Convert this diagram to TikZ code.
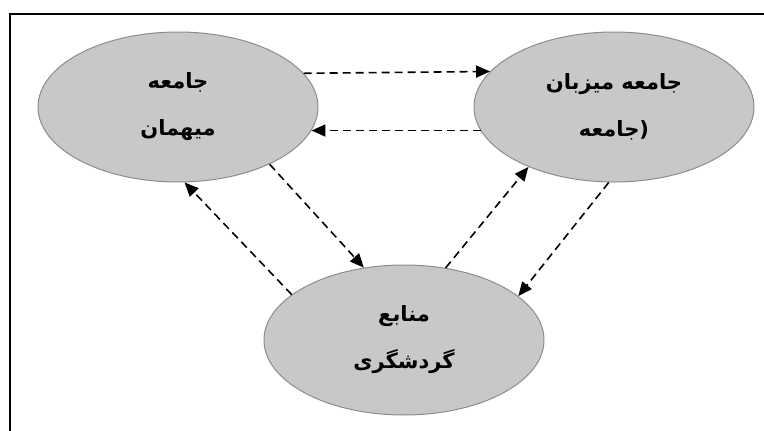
\documentclass[tikz,border=0pt]{standalone}
\usepackage{fontspec}
\usetikzlibrary{arrows.meta,shapes.geometric}
\TeXXeTstate=1
\newfontfamily\arabicfont[Script=Arabic]{DejaVu Sans}
\definecolor{ellfill}{HTML}{C8C8C8}
\definecolor{elldraw}{HTML}{8C8C8C}
\tikzset{
  bubble/.style={ellipse, fill=ellfill, draw=elldraw, line width=1pt,
    minimum width=280pt, minimum height=150pt, inner sep=0pt,
    align=center, font=\arabicfont\bfseries\fontsize{21}{47}\selectfont},
  flow/.style={dashed, dash pattern=on 8pt off 5pt, line width=1.6pt,
    -{Triangle[length=14pt,width=12pt]}},
  frameline/.style={line width=2pt, black}
}
\begin{document}
\begin{tikzpicture}[x=1pt,y=-1pt]
\useasboundingbox (0,0) rectangle (764,431);
\coordinate (ftl) at (10,14);
\coordinate (fbl) at (10,431);
\coordinate (ftr) at (764,14);
\draw[frameline] (fbl) -- (ftl) -- (ftr);

\node[bubble] (guest) at (178,107) {\beginR جامعه\endR\\\beginR میهمان\endR};
\node[bubble] (host) at (614,107) {\beginR جامعه میزبان\endR\\\beginR جامعه\endR(};
\node[bubble] (src) at (404,340) {\beginR منابع\endR\\\beginR گردشگری\endR};

\draw[flow] (guest.15.24) -- (host.164.76);
\draw[flow] (host.190.26) -- (guest.-10.26);
\draw[flow] (guest.-32.8) -- (src.119.1);
\draw[flow] (src.158.5) -- (guest.-85);
\draw[flow] (src.60.2) -- (host.215.2);
\draw[flow] (host.266) -- (src.21.4);
\end{tikzpicture}
\end{document}
